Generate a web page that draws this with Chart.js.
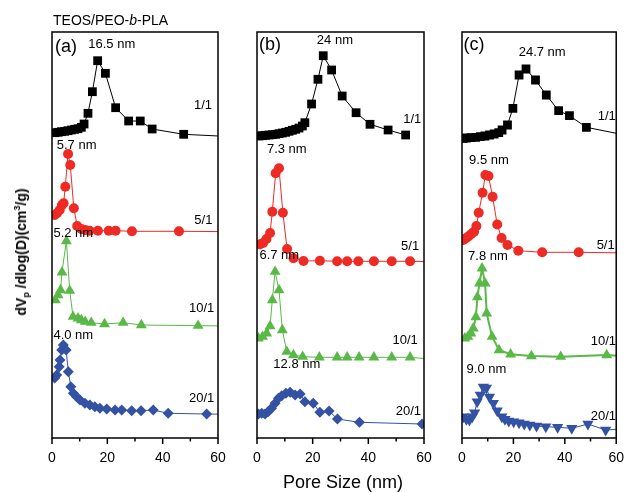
<!DOCTYPE html>
<html><head><meta charset="utf-8">
<script src="https://cdn.jsdelivr.net/npm/chart.js@4.4.1/dist/chart.umd.min.js"></script>
<style>
html,body{margin:0;padding:0;background:#fff;}
#wrap{position:relative;width:636px;height:492px;overflow:hidden;}
canvas{position:absolute;left:0;top:0;}
.txt{position:absolute;font-family:"Liberation Sans",Arial,sans-serif;color:#000;white-space:nowrap;line-height:1;}
#ylab{left:22px;top:252px;transform:translate(-50%,-50%) rotate(-90deg);font-weight:bold;font-size:14px;}
#ylab sub{font-size:9px;vertical-align:-3px;}
#ylab sup{font-size:9px;vertical-align:6px;}
</style></head><body>
<div id="wrap">
<canvas id="ca" width="636" height="492"></canvas>
<canvas id="cb" width="636" height="492"></canvas>
<canvas id="cc" width="636" height="492"></canvas>
<div class="txt" style="left:53px;top:13px;font-size:14px;">TEOS/PEO-<i>b</i>-PLA</div>
<div class="txt" id="ylab">dV<sub>p</sub> /dlog(D)(cm<sup>3</sup>/g)</div>
<div class="txt" style="left:283px;top:473px;font-size:18px;">Pore Size (nm)</div>
</div>
<script>
// ---------- data (x: pore size nm, y: relative dV/dlogD, arbitrary units) ----------
const panelNames = ['(a)', '(b)', '(c)'];
const seriesNames = ['1/1', '5/1', '10/1', '20/1'];
const xTickValues = [0, 20, 40, 60];

// panel (a)
const a11x = [1.0, 2.2, 3.4, 4.6, 5.8, 7.0, 8.2, 9.4, 10.6, 11.6, 13.0, 14.6, 16.5, 19.3, 23.0, 27.7, 31.9, 36.2, 47.6, 66];
const a11y = [5.3, 5.7, 6.3, 6.7, 7.3, 8.0, 8.7, 9.3, 10.7, 14.0, 24.7, 46.3, 77.3, 64.7, 30.3, 17.0, 17.0, 9.0, 3.7, 1.2];
const a51x = [1.0, 1.8, 2.8, 3.6, 4.2, 4.8, 5.8, 6.6, 7.9, 9.1, 10.6, 12.0, 13.6, 16.6, 20.5, 23.0, 28.9, 45.9, 66];
const a51y = [18, 19.7, 23, 28, 29.7, 46.3, 79, 68, 24.7, 7, 4, 3, 2.3, 2.3, 2.3, 2.3, 1.7, 1.7, 1.3];
const a101x = [1.2, 2.2, 3.1, 3.6, 5.2, 6.4, 7.6, 9.4, 10.6, 12.0, 14.2, 19.0, 25.7, 32.3, 52.8, 66];
const a101y = [28, 33, 38, 55.7, 87, 37.3, 11.3, 9.7, 8, 6.3, 5.3, 4, 5.3, 3, 2.3, 2];
const a201x = [1.0, 1.7, 2.6, 2.9, 3.5, 4.1, 5.1, 5.9, 6.8, 7.7, 8.9, 10.1, 11.9, 13.7, 15.5, 17.3, 19.8, 22.8, 25.2, 28.8, 32.2, 36.6, 42.0, 55.9, 66];
const a201y = [40, 43, 51.3, 58, 68, 73, 68, 46.3, 31.3, 24.7, 21.3, 18, 14.7, 13, 11.3, 9.7, 9, 8, 8, 7.3, 7.3, 8, 4.7, 4, 3.7];
const aOffsets = [300, 205, 110, 20];
const aPeaks = ['16.5 nm', '5.7 nm', '5.2 nm', '4.0 nm'];

// panel (b)
const b11x = [0.7, 1.9, 3.1, 4.3, 5.5, 6.7, 7.9, 9.1, 10.3, 11.5, 12.7, 13.9, 15.1, 16.3, 17.2, 19.6, 21.9, 23.8, 26.8, 30.6, 35.6, 40.6, 47.1, 53.4];
const b11y = [2, 2.3, 2.7, 3, 3.3, 3.7, 4.3, 5, 5.7, 6.7, 7.7, 8.7, 10, 12, 15.3, 34, 58.7, 82.3, 68, 42, 25.3, 13.7, 8, 3];
const b51x = [1.1, 2.2, 3.4, 4.7, 5.5, 6.7, 7.9, 9.3, 10.8, 13.1, 16.7, 22.6, 28.8, 32.4, 36.4, 42.0, 48.4, 55.0, 66];
const b51y = [18.7, 20, 24, 30, 51.3, 89.7, 94.7, 50.3, 14, 4.7, 2, 2.3, 1.7, 1.7, 1.7, 1.7, 1.7, 1.7, 1.2];
const b101x = [0.5, 2.0, 3.5, 4.7, 5.5, 6.5, 7.9, 9.1, 10.7, 13.1, 16.4, 22.4, 28.8, 32.4, 36.7, 42.0, 48.4, 55.0, 66];
const b101y = [21.7, 23.3, 26.7, 34, 60, 88.3, 70, 30, 8.3, 5, 3.3, 2.7, 2.7, 2.7, 2.7, 2.7, 2.7, 2.7, 0];
const b201x = [0.5, 1.7, 2.9, 4.0, 5.2, 6.5, 7.7, 8.9, 10.4, 11.9, 13.7, 15.5, 17.2, 20.2, 22.6, 25.9, 28.9, 36.8, 59.3];
const b201y = [14, 14.7, 14, 16.3, 19.7, 24.7, 29.7, 32.3, 34.7, 35.7, 33, 34, 26.3, 24.7, 15.7, 17, 9, 5.7, 4];
const bOffsets = [300, 175, 78, 10];
const bPeaks = ['24 nm', '7.3 nm', '6.7 nm', '12.8 nm'];

// panel (c)
const c11x = [0.5, 1.7, 3.5, 5.3, 7.1, 8.9, 10.7, 12.5, 14.3, 15.6, 17.7, 19.8, 22.2, 24.9, 28.6, 32.8, 37.6, 41.8, 48.4, 66];
const c11y = [-0.3, 0, 0.3, 0.7, 1.3, 2, 3, 4, 5.3, 8, 13, 29.7, 63, 69, 58, 43, 27.3, 22.3, 10.7, 1.6];
const c51x = [0.5, 1.4, 2.5, 3.6, 4.7, 5.6, 6.5, 8.0, 9.1, 10.3, 11.9, 13.7, 15.4, 17.7, 21.9, 31.2, 45.4, 66];
const c51y = [13, 14.5, 16.5, 19, 21.3, 27, 40.3, 60.3, 78, 77, 56.3, 28.5, 15, 8, 2.3, 0.7, 0.7, 0];
const c101x = [1.1, 2.3, 3.5, 4.4, 5.4, 6.0, 6.8, 7.8, 9.0, 9.6, 11.7, 14.4, 18.9, 27.0, 38.4, 56.3, 66];
const c101y = [19.7, 21.3, 24.7, 29.7, 41, 61, 74.7, 89.7, 74.7, 44.7, 21.3, 8, 3.7, 2, 1.3, 3, 1];
const c201x = [0.5, 1.7, 2.9, 4.0, 4.9, 5.9, 7.1, 8.3, 9.5, 10.7, 12.2, 13.7, 15.5, 16.7, 18.2, 20.1, 22.2, 24.2, 26.4, 29.0, 32.6, 37.2, 42.7, 49.0, 55.9, 66];
const c201y = [16.3, 13.7, 13, 16.3, 20.3, 31.3, 38, 46, 45, 36, 29.7, 22.3, 16.3, 13.7, 12, 11.3, 10.3, 9, 8, 7, 6.3, 5.7, 4.7, 9, 3, 4.7];
const cOffsets = [300, 185, 80, 5];
const cPeaks = ['24.7 nm', '9.5 nm', '7.8 nm', '9.0 nm'];

// ---------- styles / layout ----------
const FONT = '"Liberation Sans", Arial, sans-serif';
const seriesStyles = [
  {color: '#000000', pointStyle: 'rect', radius: 6.2},
  {color: '#ee2a24', pointStyle: 'circle', radius: 5},
  {color: '#5ab847', pointStyle: 'triangle', radius: 6.3},
  {color: '#3452a3', pointStyle: 'rectRot', radius: 5.5}
];
const panelCfg = [
  {id: 'ca', left: 52, right: 218, xs: [a11x, a51x, a101x, a201x], ys: [a11y, a51y, a101y, a201y], offsets: aOffsets, peaks: aPeaks,
   nameAt: [5.1, 391], peakAt: [[21.6, 394], [8.9, 293], [7.7, 204.7], [7.7, 103]], seriesAt: [[54.6, 333], [54.7, 218], [54.1, 129.7], [54.1, 39.7]], lw: [1, 1, 1, 1], down: false},
  {id: 'cb', left: 257, right: 424, xs: [b11x, b51x, b101x, b201x], ys: [b11y, b51y, b101y, b201y], offsets: bOffsets, peaks: bPeaks,
   nameAt: [4.7, 393], peakAt: [[28.0, 398], [10.7, 288.7], [8.0, 183], [14.3, 73.7]], seriesAt: [[55.8, 318.7], [55.0, 191.3], [53.2, 98], [54.4, 27]], lw: [1, 1, 1, 1], down: false},
  {id: 'cc', left: 462, right: 628, xs: [c11x, c51x, c101x, c201x], ys: [c11y, c51y, c101y, c201y], offsets: cOffsets, peaks: cPeaks,
   nameAt: [4.7, 393], peakAt: [[31.2, 385.3], [10.5, 277.3], [10.1, 182], [9.5, 68.7]], seriesAt: [[56.3, 321.3], [55.9, 193], [55.0, 96.3], [55.0, 21.3]], lw: [1, 1, 2, 1], down: true}
];

const framePlugin = {
  id: 'frame',
  afterDatasetsDraw(chart, args, o) {
    const {ctx, chartArea: a, scales: {x, y}} = chart;
    ctx.save();
    ctx.strokeStyle = '#000';
    ctx.lineWidth = 1.5;
    ctx.strokeRect(a.left, a.top, a.right - a.left, a.bottom - a.top);
    for (let v = 0; v <= 60; v += 10) {
      const px = x.getPixelForValue(v);
      ctx.beginPath();
      ctx.moveTo(px, a.bottom);
      ctx.lineTo(px, a.bottom + (v % 20 === 0 ? 6 : 3.5));
      ctx.stroke();
    }
    ctx.fillStyle = '#000';
    ctx.textAlign = 'center';
    ctx.textBaseline = 'middle';
    ctx.font = '18px ' + FONT;
    ctx.fillText(o.name, x.getPixelForValue(o.nameAt[0]), y.getPixelForValue(o.nameAt[1]));
    ctx.font = '13px ' + FONT;
    o.peaks.forEach((t, i) => ctx.fillText(t, x.getPixelForValue(o.peakAt[i][0]), y.getPixelForValue(o.peakAt[i][1])));
    o.series.forEach((t, i) => ctx.fillText(t, x.getPixelForValue(o.seriesAt[i][0]), y.getPixelForValue(o.seriesAt[i][1])));
    ctx.restore();
  }
};

panelCfg.forEach((p, pi) => {
  const datasets = p.xs.map((xs, si) => {
    const st = seriesStyles[si];
    const isDown = p.down && si === 3;
    return {
      label: seriesNames[si],
      data: xs.map((xv, k) => ({x: xv, y: p.ys[si][k] + p.offsets[si]})),
      borderColor: st.color,
      backgroundColor: st.color,
      borderWidth: p.lw[si],
      pointStyle: isDown ? 'triangle' : st.pointStyle,
      pointRotation: isDown ? 180 : 0,
      pointRadius: isDown ? 6.5 : st.radius,
      pointBorderWidth: 0,
      pointBackgroundColor: st.color,
      tension: 0,
      fill: false
    };
  });
  new Chart(document.getElementById(p.id), {
    type: 'line',
    data: {datasets},
    options: {
      responsive: false,
      animation: false,
      events: [],
      layout: {padding: {left: p.left, right: 636 - p.right, top: 32, bottom: 24}},
      plugins: {
        legend: {display: false},
        tooltip: {enabled: false},
        frame: {name: panelNames[pi], nameAt: p.nameAt, peaks: p.peaks, peakAt: p.peakAt, series: seriesNames, seriesAt: p.seriesAt}
      },
      scales: {
        x: {
          type: 'linear', min: 0, max: 60,
          afterFit: (s) => { s.height = 30; },
          afterBuildTicks: (s) => { s.ticks = xTickValues.map(v => ({value: v})); },
          ticks: {color: '#000', font: {family: FONT, size: 14}, padding: 12, maxRotation: 0, autoSkip: false},
          grid: {display: true, drawOnChartArea: false, drawTicks: false, color: 'rgba(0,0,0,0)'},
          border: {display: false}
        },
        y: {type: 'linear', min: 0, max: 406, display: false}
      }
    },
    plugins: [framePlugin]
  });
});
</script>
</body></html>
